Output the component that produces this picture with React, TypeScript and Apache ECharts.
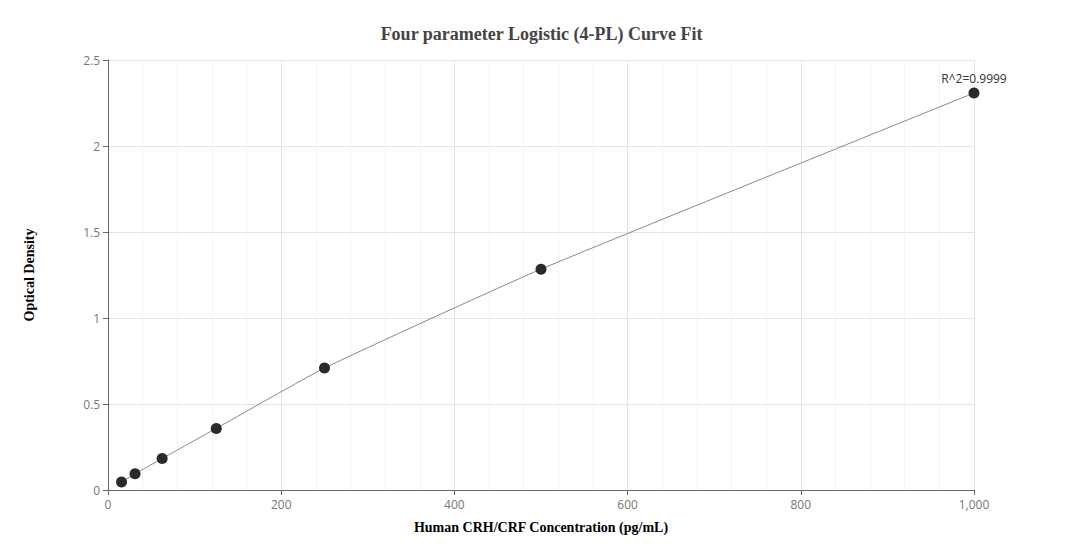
import * as echarts from 'echarts';
import React, { useEffect, useRef } from 'react';

const concentrations = [15.625, 31.25, 62.5, 125, 250, 500, 1000];
const opticalDensity = [0.047, 0.094, 0.183, 0.358, 0.709, 1.284, 2.308];
const rSquaredLabel = 'R^2=0.9999';

const App: React.FC = () => {
  const chartRef = useRef<HTMLDivElement>(null);

  useEffect(() => {
    if (!chartRef.current) return;
    document.body.style.margin = '0';
    const chart = echarts.init(chartRef.current, undefined, { renderer: 'svg' });

    const points = concentrations.map((x, i) => [x, opticalDensity[i]]);

    const option: echarts.EChartsOption = {
      animation: false,
      title: {
        text: 'Four parameter Logistic (4-PL) Curve Fit',
        left: 'center',
        top: 20,
        textStyle: {
          color: '#444',
          fontSize: 18,
          fontWeight: 'bold',
          fontFamily: 'Liberation Serif, serif',
        },
      },
      grid: {
        left: 108,
        right: 109,
        top: 60,
        bottom: 70,
      },
      xAxis: {
        type: 'value',
        min: 0,
        max: 1000,
        interval: 200,
        name: 'Human CRH/CRF Concentration (pg/mL)',
        nameLocation: 'middle',
        nameGap: 30,
        nameTextStyle: {
          color: '#000',
          fontSize: 14,
          fontWeight: 'bold',
          fontFamily: 'Liberation Serif, serif',
        },
        axisLine: { show: true, lineStyle: { color: '#666' } },
        axisTick: { show: true, lineStyle: { color: '#666' } },
        axisLabel: { color: '#777', fontSize: 12, fontFamily: 'Open Sans, sans-serif' },
        splitLine: { show: true, lineStyle: { color: '#e4e4e4' } },
        minorTick: { show: false, splitNumber: 5 },
        minorSplitLine: { show: true, lineStyle: { color: '#f3f3f3' } },
      },
      yAxis: {
        type: 'value',
        min: 0,
        max: 2.5,
        interval: 0.5,
        name: 'Optical Density',
        nameLocation: 'middle',
        nameGap: 72,
        nameTextStyle: {
          color: '#000',
          fontSize: 14,
          fontWeight: 'bold',
          fontFamily: 'Liberation Serif, serif',
        },
        axisLine: { show: true, lineStyle: { color: '#666' } },
        axisTick: { show: true, lineStyle: { color: '#666' } },
        axisLabel: { color: '#777', fontSize: 12, fontFamily: 'Open Sans, sans-serif' },
        splitLine: { show: true, lineStyle: { color: '#e4e4e4' } },
      },
      series: [
        {
          name: 'fit',
          type: 'line',
          data: points,
          smooth: 0.15,
          symbol: 'none',
          lineStyle: { color: '#888', width: 1 },
          z: 1,
        },
        {
          name: 'standards',
          type: 'scatter',
          data: points.map((p, i) =>
            i === points.length - 1
              ? {
                  value: p,
                  label: {
                    show: true,
                    position: 'top',
                    formatter: rSquaredLabel,
                    color: '#333',
                    fontSize: 12,
                    fontFamily: 'Open Sans, sans-serif',
                    distance: 3,
                  },
                }
              : { value: p }
          ),
          symbolSize: 11,
          itemStyle: { color: '#2a2a2a', opacity: 1 },
          z: 2,
        },
      ],
    };

    chart.setOption(option);
    return () => chart.dispose();
  }, []);

  return <div ref={chartRef} style={{ width: 1083, height: 560 }} />;
};

export default App;
